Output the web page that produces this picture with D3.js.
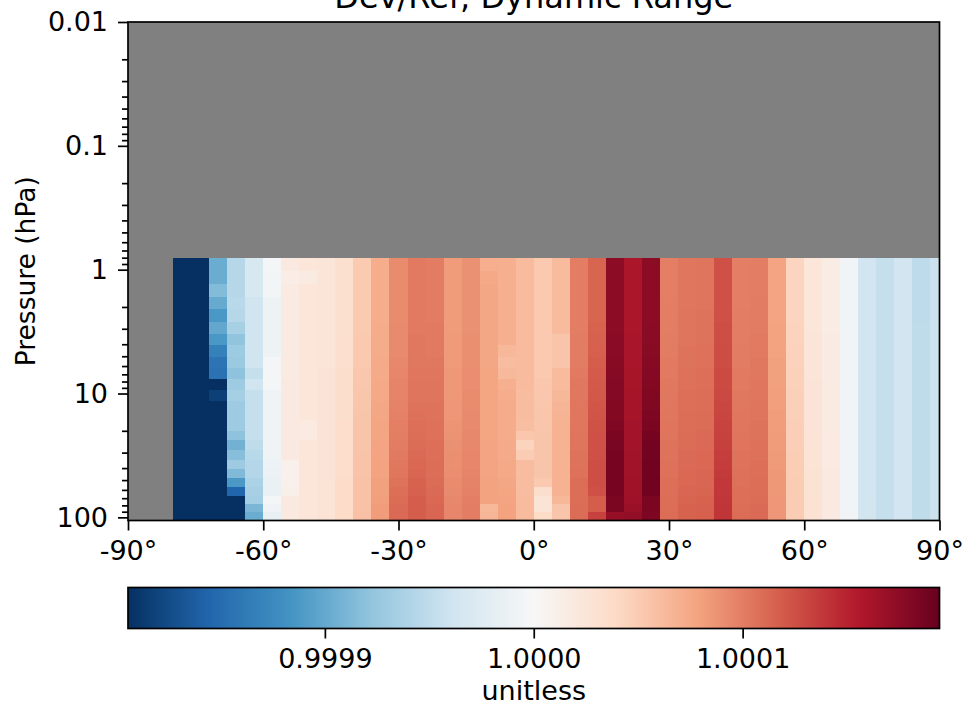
<!DOCTYPE html>
<html>
  <head>
    <meta charset="utf-8">
    <title>Dev/Ref, Dynamic Range</title>
    <script src="https://d3js.org/d3.v7.min.js"></script>
    <style>
      html, body {
        margin: 0;
        padding: 0;
        background: white;
      }
      text {
        font-family: "DejaVu Sans";
        fill: black;
      }
      .axis path,
      .axis line {
        stroke: black;
        stroke-width: 1.7px;
      }
      .axis text {
        font-size: 27px;
        font-family: "DejaVu Sans";
      }
    </style>
  </head>
  <body>
  <script>

// latitude of each column centre (deg)
var lats = [-78,-74,-70,-66,-62,-58,-54,-50,-46,-42,-38,-34,-30,-26,-22,-18,-14,-10,-6,-2,
            2,6,10,14,18,22,26,30,34,38,42,46,50,54,58,62,66,70,74,78,82,86,90];

// row edges in hPa, top to bottom
var pressureEdges = [0.81,1.02,1.31,1.66,2.09,2.64,3.32,4.08,5.07,6.26,7.69,9.44,11.4,
                     13.7,16.5,19.9,23.9,28.8,34.3,40.5,48.3,57.2,66.7,77.8,91.0,106];

// Dev/Ref ratio as (ratio - 1) * 1e6, one list per latitude, rows top to bottom
var ratioPpm = [
  [-260,-260,-260,-260,-260,-260,-260,-260,-260,-260,-260,-260,-260,-260,-260,-260,-260,-260,-260,-260,-260,-260,-260,-260,-260],
  [-250,-250,-250,-250,-250,-250,-250,-250,-250,-250,-250,-250,-250,-250,-250,-250,-250,-250,-250,-250,-250,-250,-250,-250,-250],
  [-97,-97,-85,-99,-113,-101,-113,-132,-143,-145,-215,-183,-220,-220,-220,-220,-220,-220,-220,-220,-220,-220,-220,-220,-220],
  [-56,-56,-56,-54,-56,-64,-78,-71,-73,-79,-70,-66,-70,-70,-70,-79,-93,-83,-70,-86,-113,-155,-220,-220,-220],
  [-32,-33,-33,-39,-39,-39,-39,-39,-39,-46,-39,-46,-46,-46,-46,-46,-50,-54,-57,-57,-62,-64,-67,-89,-97],
  [-4,-5,-5,-10,-10,-10,-10,-10,-4,-4,-4,-8,-8,-8,-8,-8,-8,-8,-11,-12,-14,-14,-4,-8,-15],
  [19,14,18,17,17,17,17,17,17,17,19,19,19,19,19,19,19,19,10,10,10,11,20,20,20],
  [24,17,24,24,24,24,24,24,24,24,24,24,24,24,18,18,24,24,24,24,24,24,24,24,24],
  [25,25,25,25,25,25,25,25,25,26,26,26,26,26,26,26,26,26,26,26,27,27,27,27,27],
  [32,32,32,32,32,32,33,33,33,34,34,35,35,35,36,36,36,36,36,36,37,37,37,37,38],
  [51,51,51,51,51,51,52,52,52,53,53,54,54,55,55,55,55,56,56,56,57,57,57,57,58],
  [72,72,72,72,72,73,73,73,74,74,75,75,76,76,77,77,78,78,79,79,80,80,81,82,82],
  [92,92,92,92,92,93,93,93,94,95,96,96,97,98,99,100,101,102,103,104,106,108,110,111,111],
  [102,102,102,102,102,102,103,103,103,104,105,105,106,107,108,109,110,111,112,113,115,116,118,118,118],
  [101,101,101,101,101,102,102,102,103,104,105,105,106,106,107,107,108,108,109,109,110,111,112,113,113],
  [83,83,83,83,83,83,84,84,84,85,85,85,86,86,87,88,89,90,90,91,92,93,94,95,95],
  [89,89,89,89,89,89,90,90,90,91,91,92,92,93,93,94,94,95,95,96,97,98,99,100,100],
  [71,75,76,76,76,76,76,76,76,77,77,77,77,77,77,77,78,78,78,78,79,79,79,64,66],
  [70,70,70,70,70,70,70,65,61,63,70,72,73,73,73,73,74,74,75,75,76,77,78,79,79],
  [62,62,62,62,62,62,62,62,62,62,62,61,61,61,60,53,44,50,61,61,61,61,62,62,62],
  [52,52,52,52,52,52,52,52,52,52,53,53,54,54,54,55,55,55,55,55,52,35,27,27,38],
  [62,62,62,62,62,62,55,55,55,62,62,65,66,67,68,68,68,68,68,68,68,68,64,55,54],
  [100,100,100,100,100,100,101,101,101,102,103,103,104,104,104,105,105,106,106,107,109,109,109,110,110],
  [114,114,114,114,114,115,116,117,118,119,120,121,122,123,124,125,125,125,126,126,126,125,118,118,133],
  [175,175,175,175,175,175,176,176,177,178,179,179,180,180,181,184,185,186,186,186,186,186,184,184,170],
  [159,159,159,159,159,159,160,160,160,161,161,162,162,162,163,163,163,164,164,164,165,165,166,168,172],
  [175,175,175,175,175,176,176,177,178,179,180,181,182,183,184,187,188,188,189,189,189,189,184,184,183],
  [99,99,99,100,100,100,101,101,102,102,103,103,104,104,105,105,106,106,107,107,108,108,109,109,110],
  [104,104,104,104,105,105,105,106,106,107,107,108,108,109,109,110,110,111,111,112,112,113,114,115,115],
  [105,105,105,105,106,106,106,107,107,108,108,109,109,110,110,111,111,112,112,113,113,114,115,116,117],
  [125,125,125,125,125,126,126,127,127,128,128,129,130,131,132,133,134,135,136,137,138,138,139,140,140],
  [99,99,99,99,100,100,100,101,101,102,102,103,103,104,104,105,105,106,106,107,107,108,108,109,110],
  [100,100,100,101,101,101,102,102,103,103,104,104,105,105,106,106,107,107,108,108,109,109,110,111,111],
  [78,78,78,78,78,79,79,79,80,80,80,81,81,82,82,83,83,84,84,85,85,85,86,86,86],
  [43,43,43,43,43,44,44,45,45,46,46,47,47,47,48,48,48,49,49,49,50,50,50,50,50],
  [24,24,24,24,24,24,25,25,25,25,26,26,26,26,26,27,27,27,27,28,28,28,29,29,29],
  [15,15,15,15,15,15,16,16,16,16,17,17,17,17,17,18,18,18,18,19,19,19,19,19,19],
  [-7,-7,-7,-7,-7,-7,-7,-7,-7,-7,-7,-7,-7,-7,-7,-7,-7,-7,-7,-7,-7,-7,-7,-7,-6],
  [-38,-38,-38,-38,-38,-38,-38,-38,-38,-38,-38,-38,-38,-38,-38,-38,-38,-38,-38,-38,-38,-38,-37,-37,-37],
  [-46,-46,-46,-46,-46,-46,-46,-46,-46,-46,-46,-46,-46,-46,-46,-46,-46,-46,-46,-46,-46,-46,-46,-46,-46],
  [-38,-38,-38,-38,-38,-38,-38,-38,-38,-38,-38,-38,-38,-38,-38,-38,-38,-38,-38,-38,-38,-38,-38,-38,-38],
  [-51,-51,-51,-51,-51,-50,-50,-50,-50,-50,-50,-50,-50,-50,-50,-50,-50,-50,-50,-50,-50,-50,-50,-50,-50],
  [-42,-42,-42,-42,-42,-42,-42,-42,-42,-42,-42,-42,-42,-42,-42,-42,-42,-42,-42,-42,-42,-42,-42,-42,-42]
];

var xTicks = [-90, -60, -30, 0, 30, 60, 90];
var yTicks = [0.01, 0.1, 1, 10, 100];
var cbarTicks = [0.9999, 1.0, 1.0001];
var vmin = 0.99980575, vmax = 1.00019425;

// RdBu_r
var cmapColors = ["#053061","#2166ac","#4393c3","#92c5de","#d1e5f0","#f7f7f7",
                  "#fddbc7","#f4a582","#d6604d","#b2182b","#67001f"];

var plotL = 128, plotR = 939.5, plotT = 22, plotB = 520.5;
var cbTop = 587.5, cbBottom = 628.5;

var svg = d3.select("body").append("svg").attr("width", 964).attr("height", 708);

var x = d3.scaleLinear().domain([-90, 90]).range([plotL, plotR]).clamp(true);
var y = d3.scaleLog().domain([0.01, 106]).range([plotT, plotB]);

var color = d3.scaleLinear()
  .domain(cmapColors.map(function(c, i) { return vmin + i * (vmax - vmin) / 10; }))
  .range(cmapColors)
  .interpolate(d3.interpolateRgb)
  .clamp(true);

svg.append("rect")
  .attr("x", plotL).attr("y", plotT)
  .attr("width", plotR - plotL).attr("height", plotB - plotT)
  .attr("fill", "#808080");

var cells = [];
lats.forEach(function(lat, i) {
  ratioPpm[i].forEach(function(v, j) {
    cells.push({ lat: lat, p0: pressureEdges[j], p1: pressureEdges[j + 1], value: 1 + v * 1e-6 });
  });
});

svg.append("g").selectAll("rect")
  .data(cells)
  .enter().append("rect")
    .attr("x", function(d) { return x(d.lat - 2); })
    .attr("width", function(d) { return x(d.lat + 2) - x(d.lat - 2); })
    .attr("y", function(d) { return y(d.p0); })
    .attr("height", function(d) { return y(d.p1) - y(d.p0); })
    .attr("fill", function(d) { return color(d.value); })
    .attr("shape-rendering", "crispEdges");

// axes
var xAxis = d3.axisBottom(x).tickValues(xTicks)
  .tickFormat(function(d) { return d + "\u00b0"; })
  .tickSize(10).tickSizeOuter(0).tickPadding(10);

svg.append("g").attr("class", "axis x")
  .attr("transform", "translate(0," + plotB + ")")
  .call(xAxis)
  .select(".domain").remove();

var minorTicks = [];
[0.01, 0.1, 1, 10].forEach(function(dec) {
  for (var k = 2; k <= 9; k++) minorTicks.push(dec * k);
});

svg.append("g").attr("class", "axis y")
  .attr("transform", "translate(" + plotL + ",0)")
  .call(d3.axisLeft(y).tickValues(yTicks).tickFormat(d3.format("~g"))
    .tickSize(10).tickSizeOuter(0).tickPadding(10))
  .select(".domain").remove();

svg.append("g").attr("class", "axis y minor")
  .attr("transform", "translate(" + plotL + ",0)")
  .call(d3.axisLeft(y).tickValues(minorTicks).tickFormat("").tickSize(6).tickSizeOuter(0))
  .select(".domain").remove();

svg.append("rect")
  .attr("x", plotL).attr("y", plotT)
  .attr("width", plotR - plotL).attr("height", plotB - plotT)
  .attr("fill", "none").attr("stroke", "black").attr("stroke-width", 1.7);

svg.append("text")
  .attr("transform", "translate(35," + (plotT + plotB) / 2 + ") rotate(-90)")
  .attr("text-anchor", "middle")
  .style("font-size", "26.5px")
  .text("Pressure (hPa)");

svg.append("text")
  .attr("x", (plotL + plotR) / 2).attr("y", 7.5)
  .attr("text-anchor", "middle")
  .style("font-size", "32px")
  .text("Dev/Ref, Dynamic Range");

// colorbar
var cx = d3.scaleLinear().domain([vmin, vmax]).range([plotL, plotR]);

var grad = svg.append("defs").append("linearGradient")
  .attr("id", "cbar").attr("x1", "0%").attr("x2", "100%").attr("y1", "0%").attr("y2", "0%");
grad.selectAll("stop")
  .data(color.domain())
  .enter().append("stop")
    .attr("offset", function(d) { return (cx(d) - plotL) / (plotR - plotL); })
    .attr("stop-color", function(d) { return color(d); });

svg.append("rect")
  .attr("x", plotL).attr("y", cbTop)
  .attr("width", plotR - plotL).attr("height", cbBottom - cbTop)
  .attr("fill", "url(#cbar)")
  .attr("stroke", "black").attr("stroke-width", 1.7);

svg.append("g").attr("class", "axis cbar")
  .attr("transform", "translate(0," + cbBottom + ")")
  .call(d3.axisBottom(cx).tickValues(cbarTicks).tickFormat(d3.format(".4f"))
    .tickSize(10).tickSizeOuter(0).tickPadding(10))
  .select(".domain").remove();

svg.append("text")
  .attr("x", (plotL + plotR) / 2).attr("y", 700)
  .attr("text-anchor", "middle")
  .style("font-size", "27px")
  .text("unitless");

  </script>
  </body>
</html>
